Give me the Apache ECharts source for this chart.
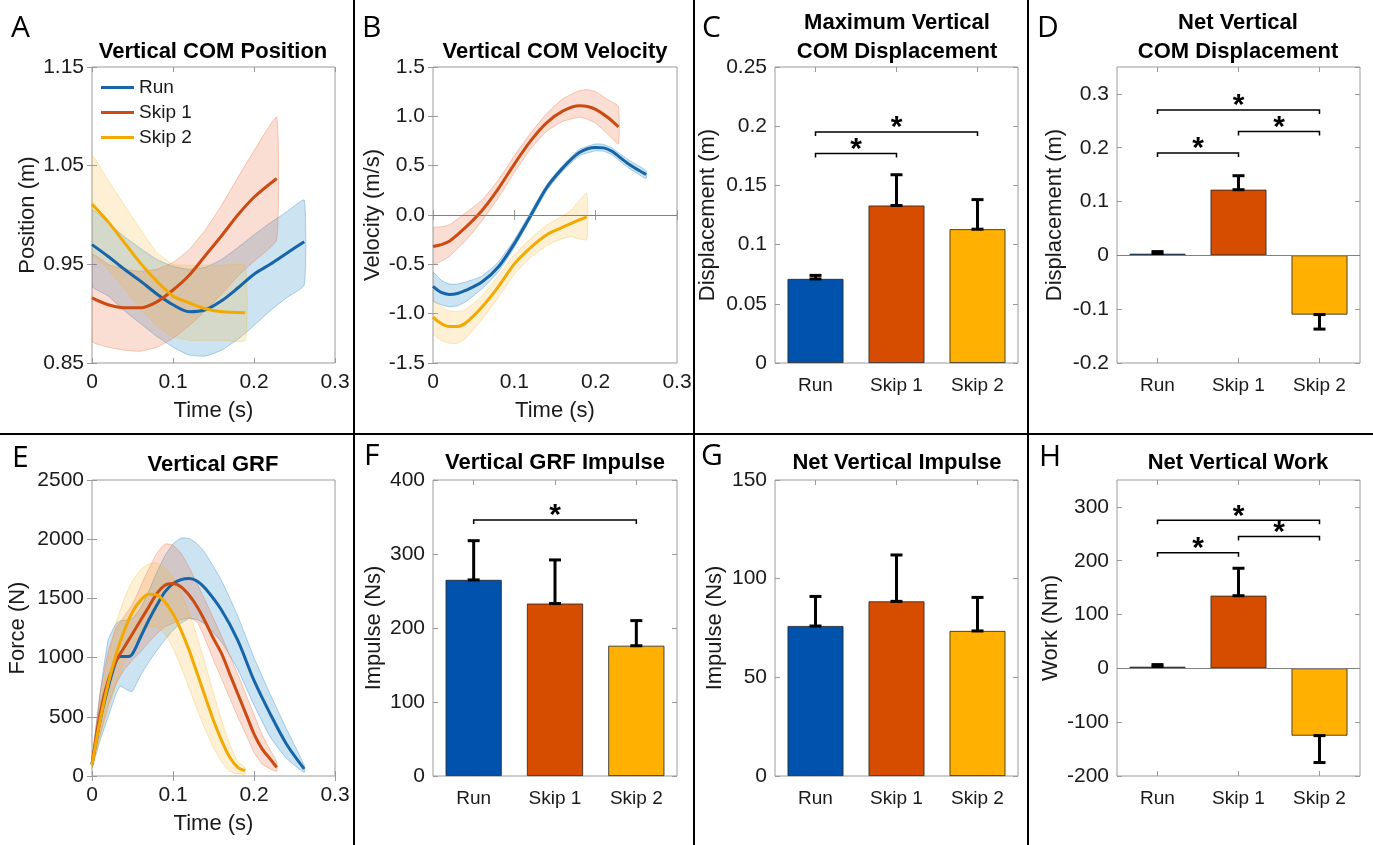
<!DOCTYPE html>
<html>
<head>
<meta charset="utf-8">
<script src="https://cdn.jsdelivr.net/npm/echarts@6/dist/echarts.min.js"></script>
<style>
  html, body { margin: 0; background: #fff; }
  #chart { width: 1373px; height: 845px; }
</style>
</head>
<body>
<div id="chart"></div>
<script>
// ---- data ----
const groups = ['Run', 'Skip 1', 'Skip 2'];

// A: vertical COM position (m)
const posRunT  = [0, 0.02, 0.04, 0.06, 0.08, 0.1, 0.12, 0.14, 0.16, 0.18, 0.2, 0.22, 0.24, 0.262];
const posRun   = [0.970, 0.958, 0.945, 0.933, 0.920, 0.909, 0.902, 0.904, 0.913, 0.926, 0.940, 0.950, 0.961, 0.973];
const posRunHi = [1.005, 0.992, 0.978, 0.966, 0.955, 0.948, 0.945, 0.947, 0.955, 0.967, 0.980, 0.992, 1.003, 1.015];
const posRunLo = [0.928, 0.918, 0.903, 0.890, 0.877, 0.866, 0.858, 0.857, 0.863, 0.874, 0.888, 0.903, 0.916, 0.929];
const posS1T   = [0, 0.02, 0.04, 0.06, 0.08, 0.1, 0.12, 0.14, 0.16, 0.18, 0.2, 0.228];
const posS1    = [0.916, 0.909, 0.906, 0.906, 0.912, 0.924, 0.939, 0.959, 0.979, 1.000, 1.018, 1.037];
const posS1Hi  = [0.960, 0.950, 0.945, 0.943, 0.945, 0.952, 0.965, 0.985, 1.010, 1.038, 1.065, 1.099];
const posS1Lo  = [0.872, 0.866, 0.863, 0.862, 0.866, 0.875, 0.888, 0.903, 0.920, 0.938, 0.953, 0.975];
const posS2T   = [0, 0.02, 0.04, 0.06, 0.08, 0.1, 0.12, 0.14, 0.16, 0.189];
const posS2    = [1.011, 0.993, 0.972, 0.951, 0.933, 0.918, 0.911, 0.905, 0.902, 0.901];
const posS2Hi  = [1.060, 1.035, 1.010, 0.985, 0.962, 0.950, 0.949, 0.949, 0.949, 0.949];
const posS2Lo  = [0.962, 0.945, 0.925, 0.905, 0.888, 0.877, 0.873, 0.873, 0.873, 0.873];

// B: vertical COM velocity (m/s)
const velRunT  = [0, 0.01, 0.02, 0.03, 0.04, 0.06, 0.08, 0.1, 0.12, 0.14, 0.16, 0.18, 0.2, 0.21, 0.22, 0.24, 0.262];
const velRun   = [-0.724, -0.785, -0.805, -0.795, -0.765, -0.68, -0.53, -0.29, -0.007, 0.28, 0.48, 0.634, 0.685, 0.68, 0.645, 0.52, 0.41];
const velRunHi = [-0.58, -0.66, -0.70, -0.70, -0.68, -0.62, -0.48, -0.25, 0.03, 0.31, 0.51, 0.665, 0.72, 0.715, 0.68, 0.56, 0.45];
const velRunLo = [-0.87, -0.91, -0.93, -0.92, -0.88, -0.75, -0.58, -0.33, -0.04, 0.25, 0.45, 0.60, 0.65, 0.645, 0.61, 0.48, 0.37];
const velS1T   = [0, 0.01, 0.02, 0.04, 0.06, 0.08, 0.1, 0.12, 0.14, 0.16, 0.18, 0.19, 0.2, 0.215, 0.228];
const velS1    = [-0.32, -0.30, -0.266, -0.125, 0.044, 0.263, 0.516, 0.752, 0.937, 1.055, 1.106, 1.10, 1.07, 0.988, 0.893];
const velS1Hi  = [-0.13, -0.12, -0.10, 0.02, 0.15, 0.35, 0.60, 0.83, 1.03, 1.18, 1.26, 1.27, 1.25, 1.17, 1.10];
const velS1Lo  = [-0.50, -0.47, -0.42, -0.26, -0.06, 0.17, 0.43, 0.67, 0.85, 0.95, 0.99, 0.97, 0.93, 0.82, 0.72];
const velS2T   = [0, 0.01, 0.02, 0.03, 0.04, 0.06, 0.08, 0.1, 0.12, 0.14, 0.155, 0.17, 0.189];
const velS2    = [-1.035, -1.10, -1.13, -1.13, -1.095, -0.934, -0.73, -0.495, -0.33, -0.2, -0.14, -0.085, -0.02];
const velS2Hi  = [-0.87, -0.93, -0.97, -0.98, -0.96, -0.82, -0.62, -0.40, -0.24, -0.10, -0.03, 0.05, 0.22];
const velS2Lo  = [-1.20, -1.27, -1.30, -1.30, -1.25, -1.06, -0.84, -0.60, -0.43, -0.31, -0.25, -0.22, -0.25];

// E: vertical GRF (N)
const grfRunT  = [0, 0.01, 0.02, 0.03, 0.035, 0.045, 0.05, 0.06, 0.07, 0.08, 0.09, 0.1, 0.11, 0.12, 0.13, 0.14, 0.16, 0.18, 0.2, 0.22, 0.24, 0.262];
const grfRun   = [100, 468, 750, 976, 1010, 1010, 1033, 1174, 1315, 1442, 1555, 1625, 1659, 1668, 1645, 1583, 1400, 1146, 807, 525, 271, 60];
const grfRunHi = [130, 700, 1150, 1290, 1310, 1320, 1330, 1420, 1560, 1720, 1860, 1960, 2010, 2005, 1960, 1880, 1650, 1350, 1000, 690, 400, 90];
const grfRunLo = [70, 300, 500, 700, 760, 720, 715, 850, 960, 1060, 1150, 1230, 1290, 1330, 1320, 1280, 1130, 900, 600, 330, 150, 30];
const grfS1T   = [0, 0.01, 0.02, 0.03, 0.04, 0.05, 0.06, 0.07, 0.08, 0.09, 0.1, 0.11, 0.12, 0.13, 0.14, 0.15, 0.16, 0.17, 0.18, 0.19, 0.2, 0.21, 0.22, 0.228];
const grfS1    = [100, 525, 807, 976, 1089, 1202, 1315, 1428, 1540, 1611, 1625, 1597, 1527, 1428, 1301, 1160, 1033, 863, 694, 525, 356, 229, 144, 73];
const grfS1Hi  = [120, 700, 1050, 1250, 1350, 1450, 1600, 1750, 1880, 1960, 1950, 1880, 1760, 1620, 1480, 1330, 1180, 1020, 860, 690, 520, 350, 220, 120];
const grfS1Lo  = [80, 350, 600, 780, 900, 980, 1050, 1130, 1200, 1260, 1290, 1320, 1335, 1300, 1150, 980, 820, 660, 500, 350, 200, 100, 60, 40];
const grfS2T   = [0, 0.01, 0.02, 0.03, 0.04, 0.05, 0.06, 0.07, 0.08, 0.09, 0.1, 0.11, 0.12, 0.13, 0.14, 0.15, 0.16, 0.17, 0.18, 0.189];
const grfS2    = [90, 470, 780, 1033, 1230, 1385, 1484, 1535, 1530, 1470, 1371, 1230, 1061, 863, 666, 468, 299, 158, 73, 45];
const grfS2Hi  = [110, 600, 1000, 1300, 1500, 1650, 1740, 1790, 1800, 1760, 1680, 1550, 1380, 1170, 940, 700, 470, 270, 120, 70];
const grfS2Lo  = [70, 330, 560, 780, 960, 1100, 1200, 1260, 1260, 1200, 1080, 920, 740, 560, 390, 240, 120, 40, 20, 15];

// bar panels: means and one-sided error bars
const maxDispMean = [0.071, 0.133, 0.113];
const maxDispErr  = [0.003, 0.026, 0.025];
const netDispMean = [0.003, 0.122, -0.110];
const netDispErr  = [0.004, 0.026, 0.027];
const grfImpMean  = [265, 233, 176];
const grfImpErr   = [53, 59, 34];
const netImpMean  = [76, 88.5, 73.5];
const netImpErr   = [15, 23.5, 17];
const workMean    = [3, 135, -125];
const workErr     = [4, 51, 50];

// significance brackets: [from, to, height]
const maxDispSig = [[0, 1, 0.177], [0, 2, 0.195]];
const netDispSig = [[0, 1, 0.19], [1, 2, 0.23], [0, 2, 0.27]];
const grfImpSig  = [[0, 2, 346]];
const workSig    = [[0, 1, 215], [1, 2, 245], [0, 2, 275]];

// ---- styling ----
const FONT = 'Liberation Sans, Arial, sans-serif';
const lineColors = ['#1565a8', '#cc4b12', '#f2a900'];
const bandColors = ['rgba(0,114,189,0.20)', 'rgba(230,90,40,0.20)', 'rgba(245,180,40,0.20)'];
const bandEdges  = ['rgba(0,114,189,0.30)', 'rgba(230,90,40,0.30)', 'rgba(245,180,40,0.30)'];
const barColors  = ['#0052ad', '#d64d00', '#ffb000'];
const boxColor = '#9a9a9a';

// plot boxes [left, top, width, height]
const boxes = [
  [92, 67, 243, 296], [433, 67, 244, 296], [775, 67, 243, 296], [1117, 67, 243, 296],
  [92, 480, 243, 296], [433, 480, 244, 296], [775, 480, 243, 296], [1117, 480, 243, 296]
];

const grid = boxes.map(b => ({
  left: b[0], top: b[1], width: b[2], height: b[3],
  show: true, borderColor: boxColor, borderWidth: 1, backgroundColor: 'transparent'
}));

const tick = { show: true, inside: true, length: 5, lineStyle: { color: boxColor } };
const numStyle = { color: '#1a1a1a', fontSize: 21, fontFamily: FONT };
const catStyle = { color: '#1a1a1a', fontSize: 19, fontFamily: FONT };
const nameStyle = { color: '#1a1a1a', fontSize: 22, fontFamily: FONT };
const plain = v => String(v);

const xAxis = [], yAxis = [];

function timeAxes(gi, yName, ymin, ymax, step, gap, fmt) {
  xAxis.push({ type: 'value', gridIndex: gi, min: 0, max: 0.3, interval: 0.1,
    name: 'Time (s)', nameLocation: 'middle', nameGap: 37, nameTextStyle: nameStyle,
    axisLine: { show: false }, axisTick: tick, splitLine: { show: false },
    axisLabel: Object.assign({ margin: 9, formatter: plain }, numStyle) });
  xAxis.push({ type: 'value', gridIndex: gi, position: 'top', min: 0, max: 0.3, interval: 0.1,
    axisLine: { show: false }, axisTick: tick, axisLabel: { show: false }, splitLine: { show: false } });
  valueY(gi, yName, ymin, ymax, step, gap, fmt);
}

function barAxes(gi, yName, ymin, ymax, step, gap, hideMax) {
  const cat = { type: 'category', gridIndex: gi, data: groups, axisLine: { show: false, onZero: false },
    axisTick: Object.assign({ alignWithLabel: true }, tick), splitLine: { show: false } };
  xAxis.push(Object.assign({}, cat, { axisLabel: Object.assign({ margin: 13 }, catStyle) }));
  xAxis.push(Object.assign({}, cat, { position: 'top', axisLabel: { show: false } }));
  valueY(gi, yName, ymin, ymax, step, gap, null, hideMax);
}

function valueY(gi, yName, ymin, ymax, step, gap, fmt, hideMax) {
  const lab = Object.assign({ margin: 8, showMaxLabel: !hideMax, formatter: fmt || plain }, numStyle);
  yAxis.push({ type: 'value', gridIndex: gi, min: ymin, max: ymax, interval: step,
    name: yName, nameLocation: 'middle', nameGap: gap, nameTextStyle: nameStyle,
    axisLine: { show: false }, axisTick: tick, splitLine: { show: false }, axisLabel: lab });
  yAxis.push({ type: 'value', gridIndex: gi, position: 'right', min: ymin, max: ymax, interval: step,
    axisLine: { show: false }, axisTick: tick, axisLabel: { show: false }, splitLine: { show: false } });
}

timeAxes(0, 'Position (m)', 0.85, 1.15, 0.1, 53);
timeAxes(1, 'Velocity (m/s)', -1.5, 1.5, 0.5, 49, v => v.toFixed(1));
barAxes(2, 'Displacement (m)', 0, 0.25, 0.05, 56);
barAxes(3, 'Displacement (m)', -0.2, 0.35, 0.1, 51, true);
timeAxes(4, 'Force (N)', 0, 2500, 500, 63);
barAxes(5, 'Impulse (Ns)', 0, 400, 100, 48);
barAxes(6, 'Impulse (Ns)', 0, 150, 50, 49);
barAxes(7, 'Work (Nm)', -200, 350, 100, 55, true);

// ---- series builders ----
const series = [];

function band(gi, t, hi, lo, k) {
  series.push({
    type: 'custom', name: groups[k] + ' sd', xAxisIndex: 2 * gi, yAxisIndex: 2 * gi,
    z: 1, silent: true, clip: true,
    data: t.map((v, i) => [v, hi[i], lo[i]]),
    encode: { x: 0, y: [1, 2] },
    renderItem(params, api) {
      if (params.dataIndex !== 0) return;
      const pts = [];
      for (let i = 0; i < t.length; i++) pts.push(api.coord([t[i], hi[i]]));
      for (let i = t.length - 1; i >= 0; i--) pts.push(api.coord([t[i], lo[i]]));
      return { type: 'polygon', shape: { points: pts, smooth: 0.15 },
        style: { fill: bandColors[k], stroke: bandEdges[k], lineWidth: 1 } };
    }
  });
}

function curve(gi, t, v, k, extra) {
  series.push(Object.assign({
    type: 'line', name: groups[k], xAxisIndex: 2 * gi, yAxisIndex: 2 * gi, z: 3,
    data: t.map((x, i) => [x, v[i]]), symbol: 'none', smooth: 0.3, silent: true,
    lineStyle: { width: 3, color: lineColors[k] }, itemStyle: { color: lineColors[k] }
  }, extra || {}));
}

const zeroLine = {
  markLine: { silent: true, symbol: ['none', 'none'], label: { show: false },
    lineStyle: { color: '#808080', width: 1, type: 'solid' }, data: [{ yAxis: 0 }] }
};

function bars(gi, mean, err, sig, withZero) {
  series.push(Object.assign({
    type: 'bar', xAxisIndex: 2 * gi, yAxisIndex: 2 * gi, barWidth: '69%', silent: true,
    data: mean.map((v, i) => ({ value: v, itemStyle: { color: barColors[i] } })),
    itemStyle: { borderColor: '#222', borderWidth: 0.8 }, z: 2
  }, withZero ? zeroLine : {}));
  // one-sided error bars
  series.push({
    type: 'custom', xAxisIndex: 2 * gi, yAxisIndex: 2 * gi, z: 4, silent: true,
    data: mean.map((v, i) => [i, v, v + (v < 0 ? -err[i] : err[i])]),
    encode: { x: 0, y: [1, 2] },
    renderItem(params, api) {
      const p0 = api.coord([api.value(0), api.value(1)]);
      const p1 = api.coord([api.value(0), api.value(2)]);
      const w = 6, st = { stroke: '#000', lineWidth: 3 };
      return { type: 'group', children: [
        { type: 'line', shape: { x1: p0[0], y1: p0[1], x2: p1[0], y2: p1[1] }, style: st },
        { type: 'line', shape: { x1: p0[0] - w, y1: p0[1], x2: p0[0] + w, y2: p0[1] }, style: st },
        { type: 'line', shape: { x1: p1[0] - w, y1: p1[1], x2: p1[0] + w, y2: p1[1] }, style: st }
      ] };
    }
  });
  if (!sig) return;
  series.push({
    type: 'custom', xAxisIndex: 2 * gi, yAxisIndex: 2 * gi, z: 4, silent: true,
    data: sig, encode: { x: [0, 1], y: 2 },
    renderItem(params, api) {
      const a = api.coord([api.value(0), api.value(2)]);
      const b = api.coord([api.value(1), api.value(2)]);
      const h = 4;
      return { type: 'group', children: [
        { type: 'polyline', shape: { points: [[a[0], a[1] + h], [a[0], a[1]], [b[0], b[1]], [b[0], b[1] + h]] },
          style: { stroke: '#000', lineWidth: 1.5, fill: null } },
        { type: 'text', style: { text: '*', x: (a[0] + b[0]) / 2, y: a[1] - 4,
          align: 'center', verticalAlign: 'middle', textAlign: 'center', textVerticalAlign: 'middle',
          fontSize: 30, fontWeight: 'bold', fontFamily: FONT, fill: '#000' } }
      ] };
    }
  });
}

// A
band(0, posRunT, posRunHi, posRunLo, 0);
band(0, posS1T, posS1Hi, posS1Lo, 1);
band(0, posS2T, posS2Hi, posS2Lo, 2);
curve(0, posRunT, posRun, 0);
curve(0, posS1T, posS1, 1);
curve(0, posS2T, posS2, 2);
// B
band(1, velRunT, velRunHi, velRunLo, 0);
band(1, velS1T, velS1Hi, velS1Lo, 1);
band(1, velS2T, velS2Hi, velS2Lo, 2);
curve(1, velRunT, velRun, 0, zeroLine);
curve(1, velS1T, velS1, 1);
curve(1, velS2T, velS2, 2);
// E
band(4, grfRunT, grfRunHi, grfRunLo, 0);
band(4, grfS1T, grfS1Hi, grfS1Lo, 1);
band(4, grfS2T, grfS2Hi, grfS2Lo, 2);
curve(4, grfRunT, grfRun, 0);
curve(4, grfS1T, grfS1, 1);
curve(4, grfS2T, grfS2, 2);
// bars
bars(2, maxDispMean, maxDispErr, maxDispSig);
bars(3, netDispMean, netDispErr, netDispSig, true);
bars(5, grfImpMean, grfImpErr, grfImpSig);
bars(6, netImpMean, netImpErr, null);
bars(7, workMean, workErr, workSig, true);

// ---- titles, panel letters, dividers ----
const titles = [
  ['Vertical COM Position', 213, 52], ['Vertical COM Velocity', 555, 52],
  ['Maximum Vertical', 897, 23], ['COM Displacement', 897, 52],
  ['Net Vertical', 1238, 23], ['COM Displacement', 1238, 52],
  ['Vertical GRF', 213, 465], ['Vertical GRF Impulse', 555, 463],
  ['Net Vertical Impulse', 897, 463], ['Net Vertical Work', 1238, 463]
];
const letters = [
  ['A', 11, 28], ['B', 362, 28], ['C', 702, 28], ['D', 1037, 28],
  ['E', 12, 458], ['F', 364, 456], ['G', 701, 456], ['H', 1039, 457]
];

const graphic = [];
titles.forEach(([s, x, y]) => graphic.push({ type: 'text', x: x, y: y, style: {
  text: s, align: 'center', verticalAlign: 'middle', textAlign: 'center', textVerticalAlign: 'middle',
  fontSize: 22, fontWeight: 'bold', fontFamily: FONT, fill: '#000' } }));
letters.forEach(([s, x, y]) => graphic.push({ type: 'text', x: x, y: y, style: {
  text: s, align: 'left', verticalAlign: 'middle', textAlign: 'left', textVerticalAlign: 'middle',
  fontSize: 30, fontFamily: 'Open Sans, sans-serif', fill: '#000' } }));
[354, 694, 1028].forEach(x => graphic.push({ type: 'line',
  shape: { x1: x, y1: 0, x2: x, y2: 845 }, style: { stroke: '#000', lineWidth: 2 } }));
graphic.push({ type: 'line', shape: { x1: 0, y1: 434, x2: 1373, y2: 434 }, style: { stroke: '#000', lineWidth: 2 } });

const chart = echarts.init(document.getElementById('chart'));
chart.setOption({
  backgroundColor: '#fff',
  animation: false,
  grid, xAxis, yAxis, series, graphic,
  legend: {
    data: groups, orient: 'vertical', left: 96, top: 73, icon: 'rect',
    itemWidth: 33, itemHeight: 3, itemGap: 6, selectedMode: false,
    textStyle: { fontSize: 19, fontFamily: FONT, color: '#1a1a1a' }
  }
});
</script>
</body>
</html>
